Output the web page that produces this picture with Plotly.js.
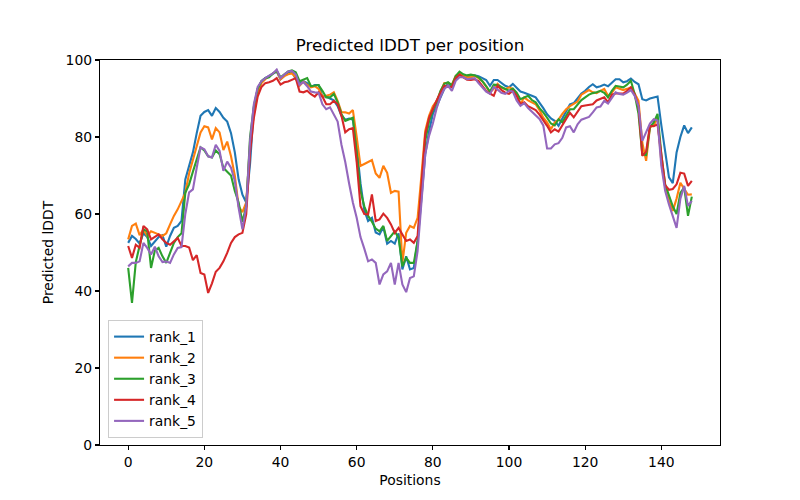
<!DOCTYPE html>
<html>
<head>
<meta charset="utf-8">
<script src="https://cdn.plot.ly/plotly-3.0.1.min.js"></script>
<style>html,body{margin:0;padding:0;background:#fff;}#chart{width:800px;height:500px;}</style>
</head>
<body>
<div id="chart"></div>
<script>
const seriesNames = ["rank_1", "rank_2", "rank_3", "rank_4", "rank_5"];
const seriesColors = ["#1f77b4", "#ff7f0e", "#2ca02c", "#d62728", "#9467bd"];

const rank_1 = [52.5,54.3,53.5,52.3,55,54,51.7,53,54,54.5,51.5,54.3,56.4,56.9,58.2,69,72.5,76,81,85.5,
86.5,87,85.5,87.5,86.5,85,84,81,76,69,65,63,73,87.5,92.5,94.5,95.3,95.8,96.3,97,
95,96,96.8,97,95,94,94.5,94,93,93.5,93.5,90.5,90.5,90,89.5,88,85.5,84.5,84.8,84.5,
77.5,68,61,58.2,59,55.2,54.7,56.6,52.3,53,52.3,55,45.6,49,45.6,46,53,64,75.5,81.5,
86,88,90.5,92.5,94,93,95,96.5,96,95.5,96,96,95.8,95.2,94.8,93.3,94.8,94.8,94,93.3,
92.9,93.8,92.8,91.8,91.5,91,90.7,90.3,89,87.5,85.9,84.8,84.2,82.9,84.8,86.5,88.5,88.8,90,91.3,
92,93,93.7,92.9,93.2,93.6,93.2,94,95,95,94.2,94.5,95.2,94.3,93.7,89.8,89.5,90,90.3,90.5,
83,76,69.5,68,76,80,83,81,82.5];

const rank_2 = [53.4,56.9,57.5,54.5,56,54.3,55.5,55,54.7,54.3,55,57.3,59.5,61.2,63.5,65.5,70.5,74,78,81.2,
82.8,82.5,79.4,82.3,81.2,76.6,78.8,75,70,62,60.5,63,78,86,91.5,94,95,95.7,96.5,97.2,
95,95.8,96.3,96.5,95.5,93.3,94.4,93.5,92.9,93.2,92.5,90.5,90.7,91,91.6,89.4,86.5,86.4,86.1,87,
80,72.5,73,73.4,74,70.5,69.4,72.5,70.7,65.5,66,65.8,47.3,55.1,56.9,56.4,59,70,81.6,85.5,
88,89.4,91.5,94,94,93.6,95.9,96.4,96,95.6,95.5,95.9,95.3,94.5,93.2,91.6,92.5,93.8,92.8,92.4,
92.9,92.5,91.2,88.5,90.3,89.5,89,88.5,87,85,83.8,82,83.8,84.5,86,87.2,88,88.5,89.2,91,
91.6,92.2,91.6,91.4,92,92.5,90.7,91.5,92.9,92.5,92.2,92.5,92.9,91.3,89.4,78.5,73.8,82.5,83,85,
73.5,67,63.5,60.8,64,68.1,66.4,65,65.1];

const rank_3 = [46,36.9,47.5,51.5,56,55.5,46,50.5,51.2,49,47.3,49.9,52.5,54,55,65.5,67.7,71,74.5,77.3,
76.5,75,74.7,76.5,75.5,72,71,70,66,63,58,62,80,88,92.5,94.5,95.3,95.5,96.5,97.2,
95.5,96.2,97,97.3,96.8,94.5,95,95.3,93.2,93.3,93.5,92,90.3,90.3,91.2,89,86,84.2,84.6,85,
76,66,62,59.5,58,56.2,55.5,56.9,53,54.3,55.5,53.8,46.4,48.6,47.3,47.3,53,66,79,84,
87,89,92,93.8,94.2,93.4,95.8,97,96.3,96,96.2,96,95.5,94.5,93,91.8,93.6,93.5,93,92.5,
92,92.6,91.5,89.8,90.2,90.7,89.6,89,87.5,86.4,85,83.5,83,84.6,83.8,85.5,87.2,87.2,88.5,89.6,
90.3,91,91.4,91.6,92,91.5,90.3,92,93.3,93,92.9,93.6,94.6,91.1,86,75.5,75.3,82.5,83.8,86,
75.5,67.7,65,62,60,65.5,66.9,59.5,64.5];

const rank_4 = [51.7,48.6,52,51.2,56.9,56,53.4,54,54.7,53.4,52.5,52,52.9,53.8,51.7,51.7,51.3,48,49.3,44.7,
44.3,39.5,42,45,46,47.7,49.9,52.5,54,54.7,55.1,60,76,85,90.5,93,94,94.2,94.6,95.3,
93.6,94.2,94.4,94.8,95.3,91.8,91.6,92,91.1,90.5,91.6,90.5,88.5,88.5,89.4,88.5,85.5,81.2,82,82.3,
73.5,62,60,59.9,65.1,58.2,58.6,60.1,59,57.3,55.1,56.4,54.7,53,53.4,52.5,54.3,67,80.7,85,
87.5,89.5,91.5,93.3,93,93,95.3,96.2,95.5,94.9,94.8,95,94.5,93.3,92,91.3,90.7,93.3,92.2,91.5,
91.2,92,90.7,88.5,89,88,87.5,87,85.8,84.5,82.9,81.2,82,81.4,83,84.5,86.3,85.1,86.4,88,
88.2,88.4,88.5,89.5,90,90.3,89,91,91.3,91.3,91.3,92,92.9,91,88,75.1,76.2,82.9,82.8,83.3,
75.5,67.5,66.3,66.5,67.7,70.7,70.5,67.3,68.6];

const rank_5 = [46.4,47.3,47.3,47.7,52.5,51.2,49.5,51.5,49,47.5,47.7,47.3,49.5,51.2,51.4,60,65.6,66.4,72,77.3,
76.8,75,74.7,78,76.4,71.2,73.6,72,68.6,61.6,56,62,79,88.5,93,94.5,95.3,96,96.5,97.5,
95.3,96.2,97,97.2,96.2,93.5,94.3,93.2,91.8,91.6,91.5,88.5,87.2,87.7,86,84,78,73.5,68,63,
59,54,51,47.7,48.2,47.3,41.7,44.3,45.1,47.3,41.7,47.3,41.7,39.7,43.4,43.8,50.4,62.5,75.5,80.3,
83.5,87.5,90.5,92.5,93.3,92,94.6,95.5,95.5,95,95.1,95.3,94,92.9,91.8,91.2,93,92.3,91.5,91.2,
92,91.8,89.5,88.1,88.8,87.5,86.5,85.5,84.7,83,77,77,78.1,78.4,79.8,82.5,82.8,81.2,83.3,84.5,
84.8,85.2,86.4,87.7,87.9,89.4,88.7,90.3,91.6,91.2,91,91.5,92.2,90.7,88,79,81.5,83.5,84.6,84.3,
72.5,66,62.5,59.5,56.4,64,67.3,62.1,63.4];

const seriesValues = [rank_1, rank_2, rank_3, rank_4, rank_5];
const xTicks = [0, 20, 40, 60, 80, 100, 120, 140];
const yTicks = [0, 20, 40, 60, 80, 100];

const font = "DejaVu Sans, sans-serif";
const traces = seriesValues.map((vals, i) => ({
  type: "scatter",
  mode: "lines",
  name: seriesNames[i],
  x: vals.map((_, j) => j),
  y: vals,
  line: { color: seriesColors[i], width: 2.1 }
}));

const n = rank_1.length - 1;
const pad = n * 0.05;

const axisCommon = {
  showgrid: false,
  zeroline: false,
  showline: true,
  mirror: true,
  linecolor: "#000",
  linewidth: 1.1,
  ticks: "outside",
  ticklen: 4,
  tickwidth: 1.1,
  tickcolor: "#000",
  tickfont: { family: font, size: 13.9, color: "#000" }
};

const layout = {
  width: 800,
  height: 500,
  margin: { l: 100, r: 80, t: 60, b: 55 },
  paper_bgcolor: "#fff",
  plot_bgcolor: "#fff",
  showlegend: true,
  title: {
    text: "Predicted lDDT per position",
    font: { family: font, size: 16.7, color: "#000" },
    x: 0.5, xref: "paper", xanchor: "center",
    y: 1 - 45 / 500, yref: "container", yanchor: "middle"
  },
  xaxis: Object.assign({}, axisCommon, {
    range: [-pad, n + pad],
    tickvals: xTicks,
    ticktext: xTicks.map(String),
    title: { text: "Positions", font: { family: font, size: 13.9, color: "#000" }, standoff: 6 }
  }),
  yaxis: Object.assign({}, axisCommon, {
    range: [0, 100],
    tickvals: yTicks,
    ticktext: yTicks.map(String),
    title: { text: "Predicted lDDT", font: { family: font, size: 13.9, color: "#000" }, standoff: 8 }
  }),
  legend: {
    x: 0.013, y: 0.018, xanchor: "left", yanchor: "bottom",
    bgcolor: "rgba(255,255,255,0.8)",
    bordercolor: "#cccccc",
    borderwidth: 1,
    font: { family: font, size: 13.9, color: "#000" },
    itemwidth: 30,
    tracegroupgap: 0
  }
};

Plotly.newPlot("chart", traces, layout, { displayModeBar: false, staticPlot: true });
</script>
</body>
</html>
